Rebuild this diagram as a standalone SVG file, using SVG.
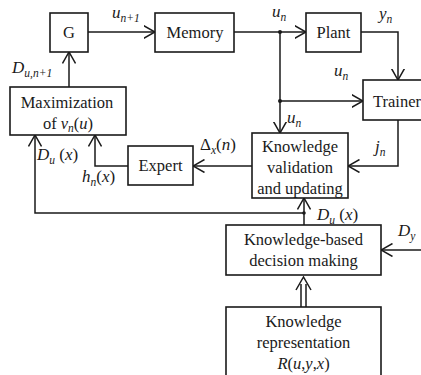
<svg xmlns="http://www.w3.org/2000/svg" width="421" height="375" viewBox="0 0 421 375">
<defs>
<style>
.box{fill:#fff;stroke:#1a1a1a;stroke-width:1.6}
.ln{fill:none;stroke:#1a1a1a;stroke-width:1.5}
.t{font-family:'Liberation Serif','Times New Roman','DejaVu Serif',serif;font-size:16.5px;fill:#1a1a1a;text-anchor:middle}
.m{font-family:'Liberation Serif','Times New Roman','DejaVu Serif',serif;font-size:17px;font-style:italic;fill:#1a1a1a}
.s{font-size:11.5px}
</style>
<marker id="a" viewBox="0 0 12 14" refX="11.5" refY="7" markerWidth="12" markerHeight="14" orient="auto" markerUnits="userSpaceOnUse">
<path d="M0,0.5 L11.5,7 L0,13.5" fill="none" stroke="#1a1a1a" stroke-width="1.5"/>
</marker>
</defs>
<rect width="421" height="375" fill="#fff"/>
<g id="connectors">
<line class="ln" x1="88" y1="32" x2="155" y2="32" marker-end="url(#a)"/>
<line class="ln" x1="234" y1="32" x2="306" y2="32" marker-end="url(#a)"/>
<circle cx="280" cy="32" r="2" fill="#1a1a1a"/>
<polyline class="ln" points="361,32 398,32 398,80" marker-end="url(#a)"/>
<line class="ln" x1="280" y1="32" x2="280" y2="133" marker-end="url(#a)"/>
<circle cx="280" cy="101" r="2" fill="#1a1a1a"/>
<line class="ln" x1="280" y1="101" x2="363" y2="101" marker-end="url(#a)"/>
<polyline class="ln" points="398,120 398,166 348,166" marker-end="url(#a)"/>
<line class="ln" x1="252" y1="166" x2="193" y2="166" marker-end="url(#a)"/>
<polyline class="ln" points="128,166 95,166 95,135" marker-end="url(#a)"/>
<line class="ln" x1="69" y1="87" x2="69" y2="52" marker-end="url(#a)"/>
<polyline class="ln" points="304,213 35,213 35,135" marker-end="url(#a)"/>
<line class="ln" x1="304" y1="225" x2="304" y2="198" marker-end="url(#a)"/>
<circle cx="304" cy="213" r="1.8" fill="#1a1a1a"/>
<line class="ln" x1="421" y1="250" x2="381" y2="250" marker-end="url(#a)"/>
<line class="ln" x1="301" y1="307" x2="301" y2="284"/>
<line class="ln" x1="306" y1="307" x2="306" y2="284"/>
<polyline class="ln" points="296,290 303.5,277 311,290"/>
</g>
<g id="G"><rect class="box" x="50" y="13" width="38" height="39"/><text class="t" x="69" y="38">G</text></g>
<g id="Memory"><rect class="box" x="155" y="13" width="79" height="39"/><text class="t" x="195" y="38">Memory</text></g>
<g id="Plant"><rect class="box" x="306" y="13" width="55" height="39"/><text class="t" x="333.5" y="38">Plant</text></g>
<g id="Trainer"><rect class="box" x="363" y="80" width="70" height="40"/><text class="t" x="373" y="107" style="text-anchor:start">Trainer</text></g>
<g id="Maximization"><rect class="box" x="10" y="87" width="116" height="48"/><text class="t" x="67" y="108">Maximization</text><text class="t" x="68" y="129">of <tspan font-style="italic">v</tspan><tspan class="s" font-style="italic" dy="3">n</tspan><tspan dy="-3">(</tspan><tspan font-style="italic">u</tspan>)</text></g>
<g id="Expert"><rect class="box" x="128" y="146" width="65" height="39"/><text class="t" x="160.5" y="171">Expert</text></g>
<g id="Validation"><rect class="box" x="252" y="133" width="96" height="65"/><text class="t" x="300" y="152">Knowledge</text><text class="t" x="300" y="173">validation</text><text class="t" x="300" y="194">and updating</text></g>
<g id="Decision"><rect class="box" x="226" y="225" width="155" height="50"/><text class="t" x="303.5" y="245">Knowledge-based</text><text class="t" x="303.5" y="266">decision making</text></g>
<g id="Representation"><rect class="box" x="226" y="307" width="155" height="75"/><text class="t" x="303.5" y="327">Knowledge</text><text class="t" x="303.5" y="348">representation</text><text class="t" x="303.5" y="369"><tspan font-style="italic">R</tspan>(<tspan font-style="italic">u</tspan>,<tspan font-style="italic">y</tspan>,<tspan font-style="italic">x</tspan>)</text></g>
<g id="labels">
<text class="m" x="112" y="18">u<tspan class="s" dy="4">n+1</tspan></text>
<text class="m" x="272" y="17">u<tspan class="s" dy="4">n</tspan></text>
<text class="m" x="379" y="19">y<tspan class="s" dy="4">n</tspan></text>
<text class="m" x="334" y="76">u<tspan class="s" dy="4">n</tspan></text>
<text class="m" x="287" y="123">u<tspan class="s" dy="4">n</tspan></text>
<text class="m" x="12" y="73">D<tspan class="s" dy="4">u,n+1</tspan></text>
<text class="m" x="37" y="160">D<tspan class="s" dy="4">u</tspan><tspan dy="-4" font-style="normal"> (</tspan>x<tspan font-style="normal">)</tspan></text>
<text class="m" x="82" y="182">h<tspan class="s" dy="4">n</tspan><tspan dy="-4" font-style="normal">(</tspan>x<tspan font-style="normal">)</tspan></text>
<text class="m" x="200" y="150"><tspan font-style="normal">Δ</tspan><tspan class="s" dy="4">x</tspan><tspan dy="-4" font-style="normal">(</tspan>n<tspan font-style="normal">)</tspan></text>
<text class="m" x="375" y="152">j<tspan class="s" dy="4">n</tspan></text>
<text class="m" x="317" y="220">D<tspan class="s" dy="4">u</tspan><tspan dy="-4" font-style="normal"> (</tspan>x<tspan font-style="normal">)</tspan></text>
<text class="m" x="398" y="236">D<tspan class="s" dy="4">y</tspan></text>
</g>
</svg>
